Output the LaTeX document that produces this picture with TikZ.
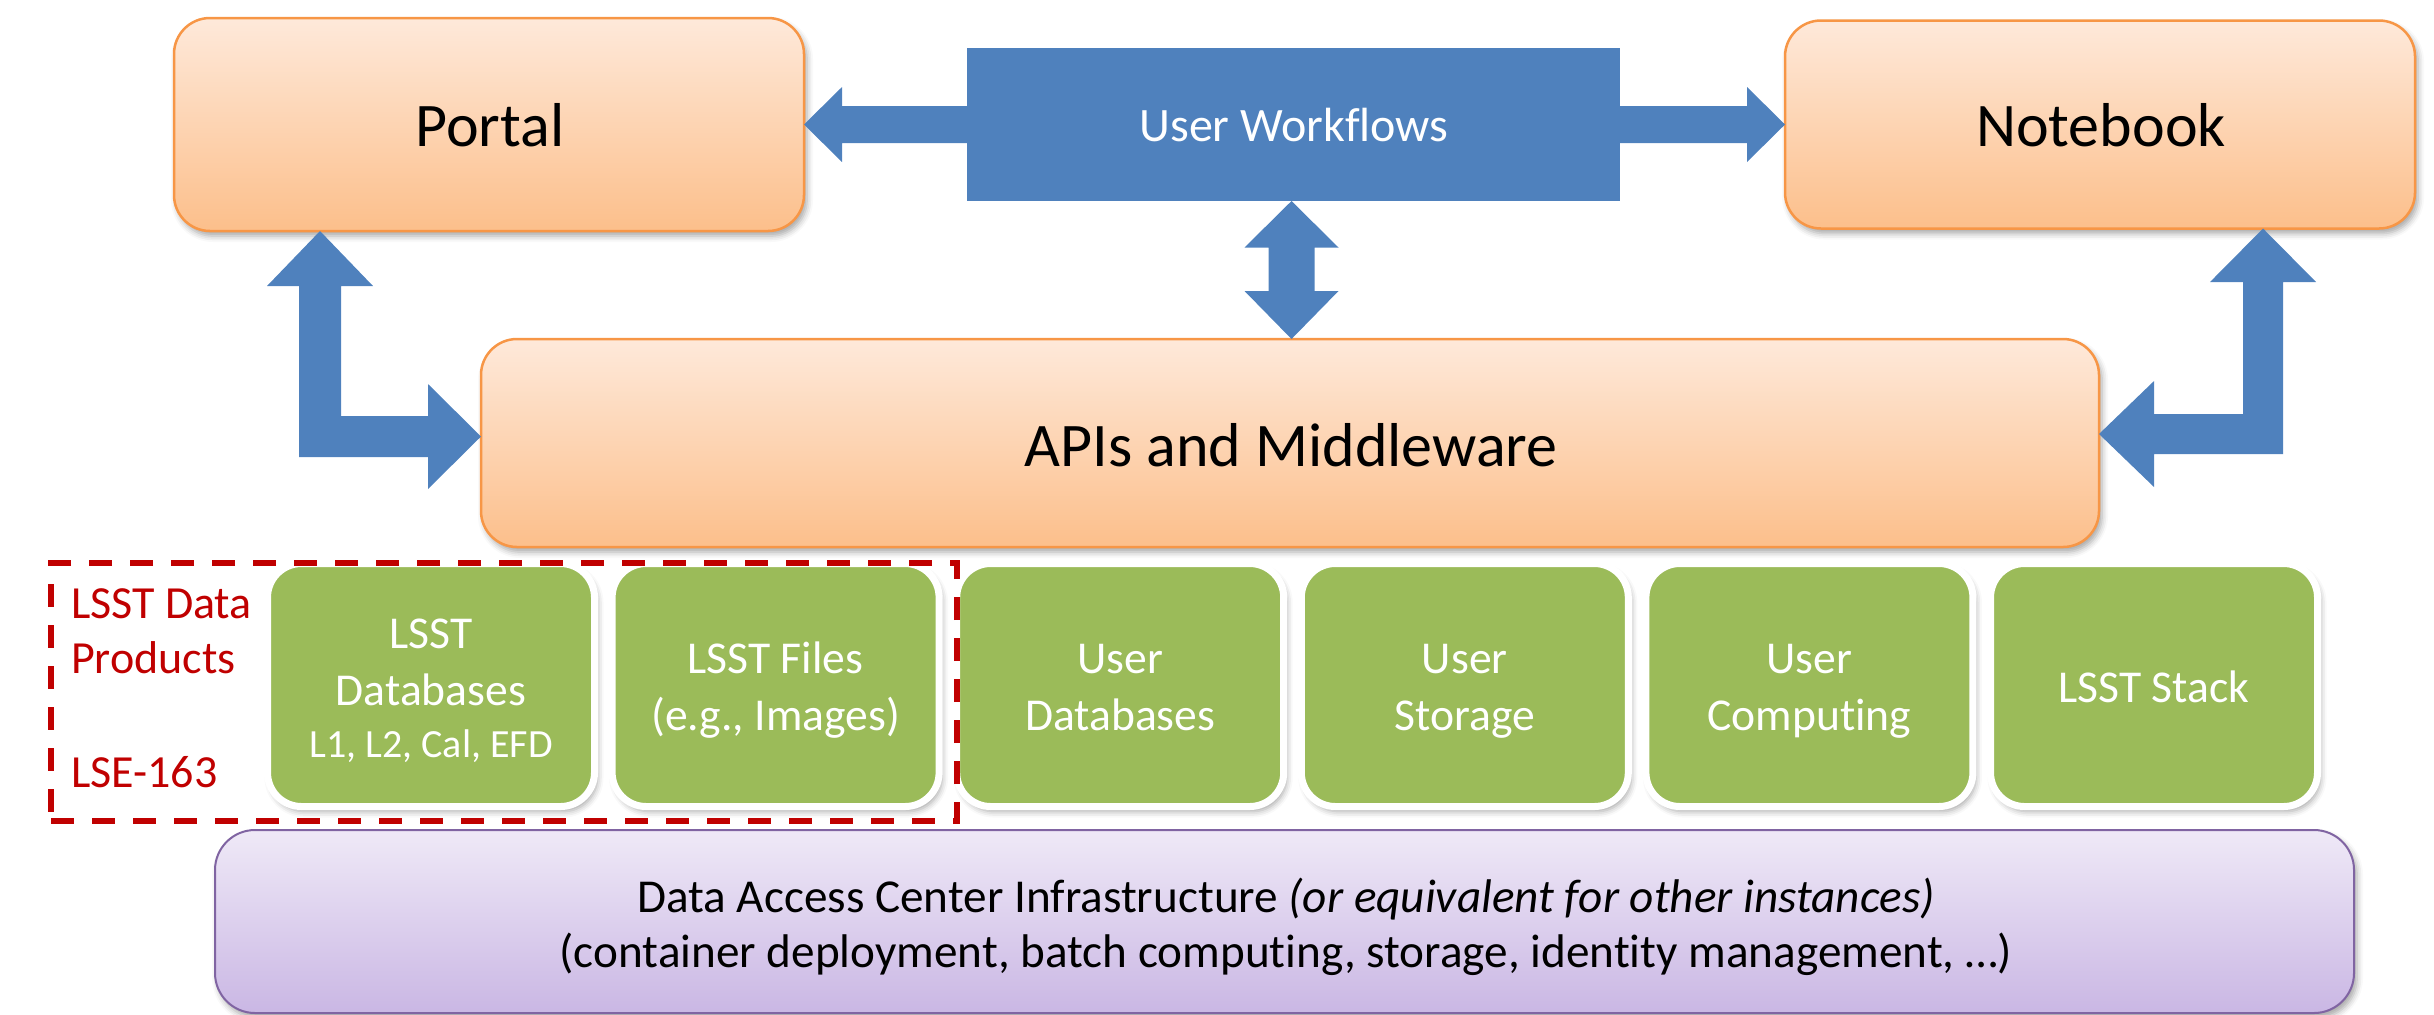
\documentclass[tikz,border=0pt]{standalone}
\usepackage{fontspec}
\setmainfont{Carlito}[Ligatures=NoCommon]
\usetikzlibrary{shadows.blur}
\definecolor{ublue}{HTML}{4F81BD}
\definecolor{oborder}{HTML}{F79646}
\definecolor{otop}{HTML}{FEE9DA}
\definecolor{obot}{HTML}{FCBF8B}
\definecolor{ugreen}{HTML}{9BBB59}
\definecolor{pborder}{HTML}{8064A2}
\definecolor{ptop}{HTML}{EFE9F7}
\definecolor{pbot}{HTML}{CAB7E4}
\definecolor{ured}{HTML}{C00000}
\begin{document}
\begin{tikzpicture}[x=0.5pt,y=-0.5pt,
  every node/.style={inner sep=0pt, outer sep=0pt},
  softshadow/.style={blur shadow={shadow xshift=1.5pt, shadow yshift=-2.5pt, shadow blur radius=3pt, shadow opacity=35}},
  obox/.style={draw=oborder, line width=1.25pt, rounded corners=18pt, top color=otop, bottom color=obot, softshadow},
  uwbox/.style={fill=ublue},
  gbox/.style={draw=white, line width=3.5pt, fill=ugreen, rounded corners=17pt, minimum width=163.5pt, minimum height=121.5pt, softshadow},
  pbox/.style={draw=pborder, line width=1pt, rounded corners=20pt, top color=ptop, bottom color=pbot, softshadow},
  dashbox/.style={draw=ured, line width=3pt, dash pattern=on 11.5pt off 9pt},
  bigtext/.style={anchor=base, font=\fontsize{31}{37}\selectfont},
  uwtext/.style={anchor=base, text=white, font=\fontsize{24}{29}\selectfont},
  gtext/.style={anchor=base, text=white, font=\fontsize{22.8}{27}\selectfont},
  gsmall/.style={anchor=base, text=white, font=\fontsize{20}{24}\selectfont},
  rtext/.style={anchor=base west, text=ured, font=\fontsize{23}{28}\selectfont},
  ptext/.style={anchor=base, font=\fontsize{23.6}{28}\selectfont},
  blk/.style={fill=ublue}
]
\useasboundingbox (0,0) rectangle (2434,1014);

% boxes
\node[obox, minimum width=315pt, minimum height=106.5pt] (portal) at (489,124.5) {};
\node[obox, minimum width=315pt, minimum height=104pt] (notebook) at (2100,124.5) {};
\node[uwbox, minimum width=326.5pt, minimum height=76.75pt] (uw) at (1293.5,124.25) {};
\node[obox, minimum width=809pt, minimum height=104pt] (apis) at (1290,443) {};

\foreach \i/\cx in {1/431,2/775.6,3/1120.2,4/1464.8,5/1809.4,6/2154}{
  \node[gbox] (g\i) at (\cx,685) {};
}

\node[pbox, minimum width=1069.5pt, minimum height=91.5pt] (dac) at (1284.5,921.5) {};

\node[dashbox, minimum width=453pt, minimum height=129pt] (lsstdp) at (504,692) {};

% texts
\node[bigtext] (tportal) at (490,146.4) {Portal};
\node[bigtext] (tnotebook) at (2101,146) {Notebook};
\node[bigtext] (tapis) at (1291,466) {APIs and Middleware};
\node[uwtext] (tuw) at (1294,141) {User Workflows};

\node[gtext] (g1a) at (431,648) {LSST};
\node[gtext] (g1b) at (431,705) {Databases};
\node[gsmall] (g1c) at (431,757) {L1, L2, Cal, EFD};
\node[gtext] (g2a) at (775.6,673) {LSST Files};
\node[gtext] (g2b) at (775.6,730) {(e.g., Images)};
\node[gtext] (g3a) at (1120.2,673) {User};
\node[gtext] (g3b) at (1120.2,730) {Databases};
\node[gtext] (g4a) at (1464.8,673) {User};
\node[gtext] (g4b) at (1464.8,730) {Storage};
\node[gtext] (g5a) at (1809.4,673) {User};
\node[gtext] (g5b) at (1809.4,730) {Computing};
\node[gtext] (g6a) at (2154,702) {LSST Stack};

\node[rtext] (r1) at (71,618) {LSST Data};
\node[rtext] (r2) at (71,673) {Products};
\node[rtext] (r3) at (71,787) {LSE-163};

\node[ptext] (p1) at (1286,912) {Data Access Center Infrastructure \textit{(or equivalent for other instances)}};
\node[ptext] (p2) at (1286,967) {(container deployment, batch computing, storage, identity management, …)};

% arrows
\fill[blk] (portal.east) -- (842,87) -- (842,106) -- (uw.west |- 0,106) -- (uw.west |- 0,143) -- (842,143) -- (842,162) -- cycle;
\fill[blk] (notebook.west) -- (1747,162) -- (1747,143) -- (uw.east |- 0,143) -- (uw.east |- 0,106) -- (1747,106) -- (1747,87) -- cycle;
\fill[blk] (uw.south -| 1291.5,0) -- (1338.5,247.5) -- (1314.5,247.5) -- (1314.5,291) -- (1338.5,291) -- (apis.north -| 1291.5,0) -- (1244.5,291) -- (1268.5,291) -- (1268.5,247.5) -- (1244.5,247.5) -- cycle;
\fill[blk] (portal.south -| 320,0) -- (373,286) -- (341,286) -- (341,416) -- (428,416) -- (428,384) -- (apis.west |- 0,436.5) -- (428,489) -- (428,457) -- (299,457) -- (299,286) -- (267,286) -- cycle;
\fill[blk] (notebook.south -| 2263,0) -- (2316,282) -- (2283,282) -- (2283,454) -- (2154,454) -- (2154,487) -- (apis.east |- 0,434) -- (2154,381) -- (2154,414) -- (2243,414) -- (2243,282) -- (2210,282) -- cycle;
\end{tikzpicture}
\end{document}
